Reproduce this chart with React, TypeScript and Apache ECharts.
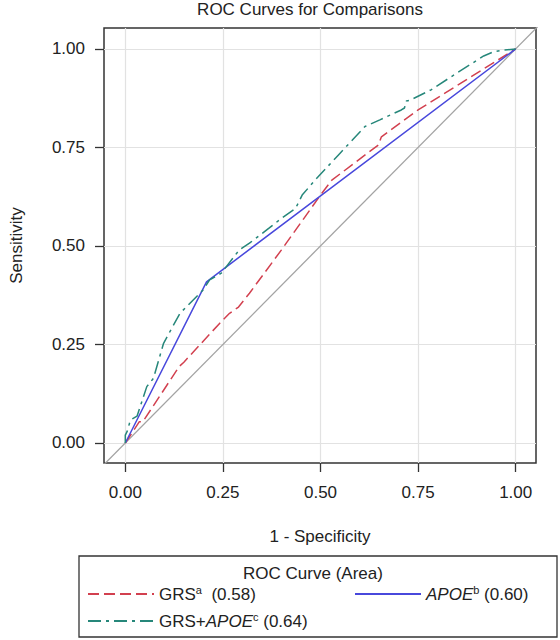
import React, { useEffect, useRef } from 'react';
import * as echarts from 'echarts';

const chartTitle = 'ROC Curves for Comparisons';
const legendTitle = 'ROC Curve (Area)';
const xAxisTitle = '1 - Specificity';
const yAxisTitle = 'Sensitivity';
const tickValues = [0, 0.25, 0.5, 0.75, 1];

const seriesNames = ['GRS', 'APOE', 'GRS+APOE'];
const seriesAreas = ['0.58', '0.60', '0.64'];

// GRS (red dashed)
const grsX = [0, 0.02, 0.036, 0.045, 0.138, 0.15, 0.242, 0.267, 0.29, 0.318, 0.4, 0.5, 0.529, 0.648, 0.656, 0.75, 1];
const grsY = [0, 0.03, 0.054, 0.054, 0.194, 0.205, 0.304, 0.329, 0.345, 0.38, 0.49, 0.629, 0.667, 0.756, 0.777, 0.845, 1];

// APOE (blue solid)
const apoeX = [0, 0.208, 1];
const apoeY = [0, 0.409, 1];

// GRS+APOE (teal dash-dot)
const comboX = [0, 0, 0.005, 0.013, 0.03, 0.055, 0.072, 0.098, 0.14, 0.199, 0.216, 0.246, 0.292, 0.318, 0.368, 0.4, 0.436, 0.453, 0.487, 0.546, 0.614, 0.652, 0.707, 0.715, 0.72, 0.73, 0.783, 0.842, 0.918, 0.944, 0.969, 1];
const comboY = [0, 0.02, 0.03, 0.058, 0.068, 0.143, 0.164, 0.253, 0.329, 0.388, 0.414, 0.431, 0.49, 0.507, 0.545, 0.57, 0.595, 0.629, 0.668, 0.731, 0.803, 0.82, 0.845, 0.85, 0.868, 0.87, 0.896, 0.934, 0.982, 0.993, 0.997, 1];

// reference diagonal
const diagX = [-0.06, 1.06];
const diagY = [-0.06, 1.06];

const zip = (xs: number[], ys: number[]) => xs.map((x, i) => [x, ys[i]]);

const FONT = "'Liberation Sans', Arial, Helvetica, sans-serif";
const TEXT = '#222';
const RED = '#d2404f';
const BLUE = '#4848dc';
const TEAL = '#26877a';

const legendLabels: Record<string, string> = {
  GRS: `GRS{sup|a}  (${seriesAreas[0]})`,
  APOE: `{it|APOE}{sup|b} (${seriesAreas[1]})`,
  'GRS+APOE': `GRS+{it|APOE}{sup|c} (${seriesAreas[2]})`,
};

export default function App() {
  const ref = useRef<HTMLDivElement>(null);
  useEffect(() => {
    document.body.style.margin = '0';
    if (!ref.current) return;
    const chart = echarts.init(ref.current, undefined, { renderer: 'svg' });
    const richText = {
      sup: { fontSize: 11, verticalAlign: 'top', fontFamily: FONT, color: TEXT, lineHeight: 20 },
      it: { fontStyle: 'italic', fontSize: 17, fontFamily: FONT, color: TEXT, lineHeight: 20 },
    };
    const legendCommon = {
      orient: 'horizontal',
      padding: 0,
      itemWidth: 66,
      itemHeight: 14,
      selectedMode: false,
      itemStyle: { opacity: 0 },
      formatter: (name: string) => legendLabels[name],
      textStyle: { fontSize: 17, color: TEXT, fontFamily: FONT, lineHeight: 20, rich: richText },
    };
    const axisCommon = {
      type: 'value',
      axisLine: { show: false, onZero: false },
      axisTick: {
        show: true,
        length: 9,
        customValues: tickValues,
        lineStyle: { color: '#333', width: 1.3 },
      },
      axisLabel: {
        customValues: tickValues,
        formatter: (v: number) => v.toFixed(2),
        fontSize: 17,
        color: TEXT,
        fontFamily: FONT,
      },
      splitLine: { show: true, lineStyle: { color: '#e2e2e2', width: 1.2 } },
      nameLocation: 'middle',
      nameTextStyle: { fontSize: 17, color: TEXT, fontFamily: FONT },
    };
    chart.setOption({
      animation: false,
      title: {
        text: chartTitle,
        left: 310,
        top: 1,
        padding: 0,
        textAlign: 'center',
        textStyle: { fontSize: 17, fontWeight: 'normal', color: TEXT, fontFamily: FONT },
      },
      grid: { left: 100, top: 28, width: 436, height: 435, show: true, borderColor: '#333', borderWidth: 1.5, backgroundColor: '#fff' },
      xAxis: {
        ...axisCommon,
        min: -0.0546,
        max: 1.052,
        name: xAxisTitle,
        nameGap: 65,
        axisLabel: { ...axisCommon.axisLabel, margin: 21 },
      },
      yAxis: {
        ...axisCommon,
        min: -0.0508,
        max: 1.053,
        name: yAxisTitle,
        nameGap: 79,
        axisLabel: { ...axisCommon.axisLabel, margin: 19 },
      },
      legend: [
        { ...legendCommon, data: ['GRS'], left: 87, top: 584 },
        { ...legendCommon, data: ['APOE'], left: 354, top: 584 },
        { ...legendCommon, data: ['GRS+APOE'], left: 87, top: 611 },
      ],
      graphic: [
        {
          type: 'rect',
          shape: { x: 79, y: 556, width: 478, height: 81 },
          style: { fill: 'none', stroke: '#333', lineWidth: 1.3 },
          silent: true,
        },
        {
          type: 'text',
          x: 313,
          y: 573,
          style: { text: legendTitle, fontSize: 17, fill: TEXT, fontFamily: FONT, align: 'center', verticalAlign: 'middle' },
          silent: true,
        },
      ],
      series: [
        {
          name: 'diag',
          type: 'line',
          data: zip(diagX, diagY),
          symbol: 'none',
          lineStyle: { color: '#a3a3a3', width: 1.3 },
          silent: true,
          z: 1,
        },
        {
          name: seriesNames[0],
          type: 'line',
          data: zip(grsX, grsY),
          symbol: 'none',
          color: RED,
          lineStyle: { color: RED, width: 1.5, type: [11, 5] },
          z: 3,
        },
        {
          name: seriesNames[1],
          type: 'line',
          data: zip(apoeX, apoeY),
          symbol: 'none',
          color: BLUE,
          lineStyle: { color: BLUE, width: 1.5 },
          z: 3,
        },
        {
          name: seriesNames[2],
          type: 'line',
          data: zip(comboX, comboY),
          symbol: 'none',
          color: TEAL,
          lineStyle: { color: TEAL, width: 1.5, type: [13, 5, 3, 5] },
          z: 3,
        },
      ],
    });
    return () => chart.dispose();
  }, []);
  return <div ref={ref} style={{ width: 560, height: 640 }} />;
}
